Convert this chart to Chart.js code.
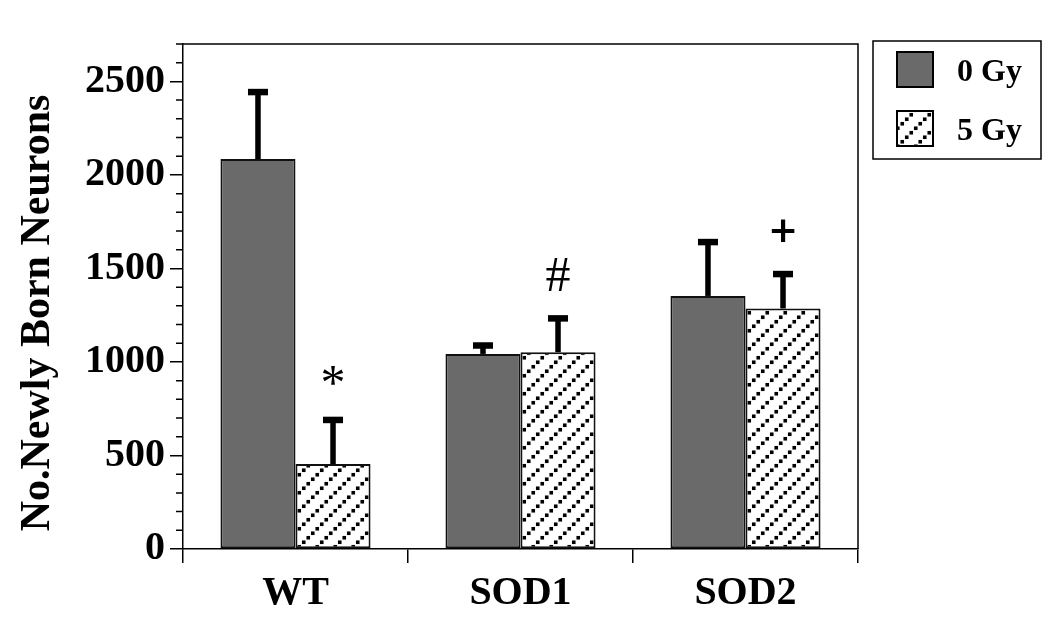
<!DOCTYPE html>
<html>
<head>
<meta charset="utf-8">
<script src="https://cdn.jsdelivr.net/npm/chart.js@4.4.0/dist/chart.umd.min.js"></script>
<style>
html, body { margin: 0; padding: 0; background: #fff; }
</style>
</head>
<body>
<canvas id="neurons" width="1050" height="623"></canvas>
<script>
const groups = ['WT', 'SOD1', 'SOD2'];
const seriesNames = ['0 Gy', '5 Gy'];
const gy0 = [2085, 1043, 1353];
const gy0Err = [358, 45, 288];
const gy5 = [454, 1052, 1286];
const gy5Err = [236, 181, 184];
const marks = ['*', '#', '+'];
const yTicks = [0, 500, 1000, 1500, 2000, 2500];
const yTitle = 'No.Newly Born Neurons';

const serif = "'Liberation Serif', 'Times New Roman', serif";
const canvas = document.getElementById('neurons');

// dotted diagonal hatch used for the 5 Gy bars
function hatch() {
  const c = document.createElement('canvas');
  c.width = 18; c.height = 18;
  const g = c.getContext('2d');
  g.fillStyle = '#fff';
  g.fillRect(0, 0, 18, 18);
  g.fillStyle = '#000';
  for (let i = 0; i < 4; i++) {
    const t = (i + 0.5) * 4.5;
    g.fillRect(t - 1.8, 18 - t - 1.8, 3.6, 3.6);
  }
  return canvas.getContext('2d').createPattern(c, 'repeat');
}

const errorBars = {
  id: 'errorBars',
  afterDatasetsDraw(chart) {
    const ctx = chart.ctx, y = chart.scales.y;
    chart.data.datasets.forEach((ds, i) => {
      chart.getDatasetMeta(i).data.forEach((bar, j) => {
        const top = y.getPixelForValue(ds.data[j] + ds.errors[j]);
        ctx.save();
        ctx.fillStyle = '#000';
        ctx.fillRect(bar.x - 2.75, top, 5.5, bar.y - top);
        ctx.fillRect(bar.x - 10, top - 3.25, 20, 6.5);
        if (ds.marks) {
          const m = ds.marks[j];
          ctx.font = m === '+' ? "bold 36px 'DejaVu Sans', sans-serif" : '50px ' + serif;
          ctx.textAlign = 'center';
          ctx.textBaseline = 'alphabetic';
          const mt = ctx.measureText(m);
          const mid = top - 44;
          ctx.fillText(m, bar.x, mid + (mt.actualBoundingBoxAscent - mt.actualBoundingBoxDescent) / 2);
        }
        ctx.restore();
      });
    });
  }
};

const frame = {
  id: 'frame',
  afterDraw(chart) {
    const ctx = chart.ctx, a = chart.chartArea, y = chart.scales.y;
    ctx.save();
    ctx.strokeStyle = '#000';
    ctx.lineWidth = 1.5;
    ctx.beginPath();
    ctx.moveTo(a.left, a.top);
    ctx.lineTo(a.right, a.top);
    ctx.lineTo(a.right, a.bottom);
    // minor ticks every 100
    for (let v = 100; v <= y.max; v += 100) {
      if (v % 500 === 0) continue;
      const py = y.getPixelForValue(v);
      ctx.moveTo(a.left - 7, py);
      ctx.lineTo(a.left, py);
    }
    ctx.stroke();

    // y title
    ctx.save();
    ctx.translate(49, 313);
    ctx.rotate(-Math.PI / 2);
    ctx.fillStyle = '#000';
    ctx.font = 'bold 42px ' + serif;
    ctx.textAlign = 'center';
    ctx.textBaseline = 'alphabetic';
    ctx.fillText(yTitle, 0, 0);
    ctx.restore();

    // legend box
    ctx.strokeRect(873, 41, 168, 118);
    const rows = [52, 111];
    chart.data.datasets.forEach((ds, i) => {
      ctx.fillStyle = ds.backgroundColor;
      ctx.fillRect(897, rows[i], 36, 35);
      ctx.lineWidth = 2;
      ctx.strokeRect(897, rows[i], 36, 35);
      ctx.fillStyle = '#000';
      ctx.font = 'bold 32px ' + serif;
      ctx.textAlign = 'left';
      ctx.textBaseline = 'middle';
      ctx.fillText(ds.label, 957, rows[i] + 21);
    });
    ctx.restore();
  }
};

new Chart(canvas.getContext('2d'), {
  type: 'bar',
  data: {
    labels: groups,
    datasets: [{
      label: seriesNames[0],
      data: gy0,
      errors: gy0Err,
      backgroundColor: '#6a6a6a',
      borderColor: '#111',
      borderWidth: 2,
      borderSkipped: false
    }, {
      label: seriesNames[1],
      data: gy5,
      errors: gy5Err,
      marks: marks,
      backgroundColor: hatch(),
      borderColor: '#111',
      borderWidth: 2,
      borderSkipped: false
    }]
  },
  options: {
    responsive: false,
    animation: false,
    layout: { padding: { left: 15, top: 44, right: 192, bottom: 0 } },
    categoryPercentage: 0.667,
    barPercentage: 1.0,
    plugins: {
      legend: { display: false },
      tooltip: { enabled: false }
    },
    scales: {
      x: {
        offset: true,
        afterFit: s => { s.height = 74; },
        grid: {
          offset: true,
          drawOnChartArea: false,
          tickLength: 14,
          color: '#000',
          lineWidth: 1.5
        },
        border: { color: '#000', width: 1.5 },
        ticks: {
          color: '#000',
          padding: 11,
          font: { family: serif, size: 40, weight: 'bold', lineHeight: 1 }
        }
      },
      y: {
        min: 0,
        max: 2700,
        afterBuildTicks: s => { s.ticks = yTicks.map(v => ({ value: v })); },
        afterFit: s => { s.width = 168; },
        grid: {
          drawOnChartArea: false,
          tickLength: 13,
          color: '#000',
          lineWidth: 1.5
        },
        border: { color: '#000', width: 1.5 },
        ticks: {
          color: '#000',
          padding: 5,
          callback: v => String(v),
          font: { family: serif, size: 40, weight: 'bold', lineHeight: 1 }
        }
      }
    }
  },
  plugins: [errorBars, frame]
});
</script>
</body>
</html>
